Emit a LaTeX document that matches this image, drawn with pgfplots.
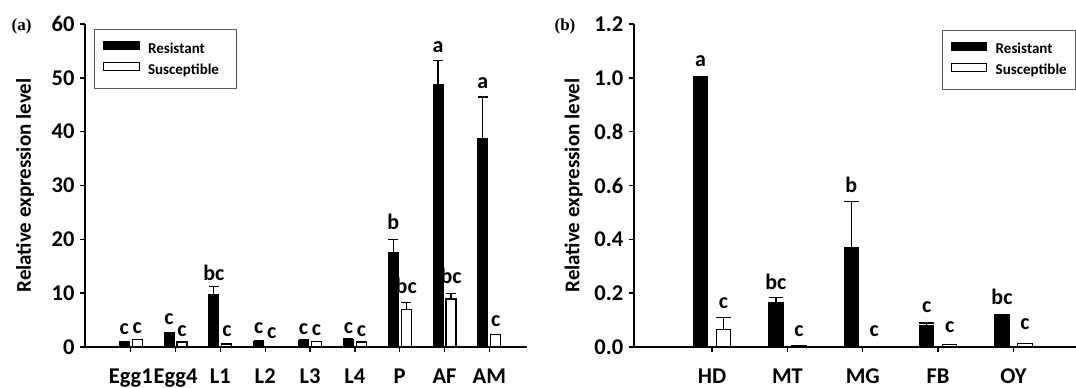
\documentclass[border=0pt]{standalone}
\usepackage{fontspec}
\setmainfont{Carlito}
\newfontfamily\timesf{Liberation Serif}
\usepackage{pgfplots}
\pgfplotsset{compat=1.18}
\usepackage{pgfplotstable}

% Panel (a)
\pgfplotstableread{
x y e
0 0.93 0
1 2.72 0
2 9.75 1.42
3 1.11 0
4 1.30 0
5 1.48 0
6 17.6 2.4
7 48.67 4.52
8 38.76 7.68
}\resA
\pgfplotstableread{
x y e
0 1.42 0
1 0.93 0
2 0.56 0
3 0.15 0
4 1.05 0
5 0.93 0
6 6.9 1.37
7 8.9 1.0
8 2.3 0
}\susA
% Panel (b)
\pgfplotstableread{
x y e
0 1.0 0.003
1 0.165 0.018
2 0.368 0.173
3 0.079 0.010
4 0.121 0
}\resB
\pgfplotstableread{
x y e
0 0.064 0.047
1 0.006 0
2 0.001 0
3 0.009 0
4 0.0136 0
}\susB

\pgfplotsset{
  mybase/.style={
    scale only axis, anchor=south west,
    axis x line=bottom, axis y line=left,
    axis line style={-, line width=1.8pt},
    tick style={black, line width=1.4pt},
    major tick length=5pt, tick align=outside,
    ymin=0,
    ticklabel style={font=\fontsize{22.5}{24}\selectfont\bfseries},
    xticklabel style={yshift=-13pt},
    yticklabel style={xshift=-2pt},
    /pgf/number format/assume math mode=true,
    ylabel={Relative expression level},
    ylabel style={font=\fontsize{21}{24}\selectfont\bfseries,
      at={(axis description cs:-0.1357,0.5)}, anchor=center},
    legend cell align=left,
    legend style={font=\fontsize{15}{17}\selectfont\bfseries, draw=black!65, line width=0.8pt,
      inner xsep=8.7pt, inner ysep=11.5pt, row sep=6pt, column sep=8.4pt,
      nodes={inner sep=0pt, text height=11pt, text depth=3pt},
      anchor=north west},
    clip=false,
  },
  legpatch/.style={legend image code/.code={\draw[##1, line width=1pt] (0pt,-0.5pt) rectangle (35.5pt,7.5pt);}},
  myerr/.style={error bars/.cd, y dir=plus, y explicit,
    error bar style={black, line width=1.2pt},
    error mark options={black, line width=1.2pt, rotate=90, mark size=#1}},
}
\tikzset{lab/.style={anchor=south, inner sep=0pt, font=\fontsize{22}{24}\selectfont\bfseries}}

\begin{document}
\begin{tikzpicture}
\path[use as bounding box] (0,0) rectangle (1076pt,388pt);

% ---------------- Panel (a)
\begin{axis}[mybase,
  at={(85pt,41pt)}, width=442pt, height=323pt,
  ybar=3pt, bar width=10pt,
  xmin=-1.02, xmax=8.84, ymax=60,
  ytick={0,10,...,60},
  xtick={0,...,8},
  xticklabels={Egg1,Egg4,L1,L2,L3,L4,P,AF,AM},
  legend style={at={(0.0204,0.9836)}},
]
\addplot[fill=black, draw=black, line width=1pt, legpatch, myerr=5pt] table[x=x,y=y,y error=e] {\resA};
\addlegendentry{Resistant}
\addplot[fill=white, draw=black, line width=1.2pt, legpatch, myerr=5pt] table[x=x,y=y,y error=e] {\susA};
\addlegendentry{Susceptible\hspace*{9pt}}
% significance letters
\node[lab, xshift=-6.5pt] at (axis cs:0,2.2) {c};
\node[lab, xshift=6.5pt]  at (axis cs:0,2.5) {c};
\node[lab, xshift=-6.5pt] at (axis cs:1,4.1) {c};
\node[lab, xshift=6.5pt]  at (axis cs:1,1.9) {c};
\node[lab, xshift=-6.5pt] at (axis cs:2,12.3) {bc};
\node[lab, xshift=6.5pt]  at (axis cs:2,1.9) {c};
\node[lab, xshift=-6.5pt] at (axis cs:3,2.5) {c};
\node[lab, xshift=6.5pt]  at (axis cs:3,1.6) {c};
\node[lab, xshift=-6.5pt] at (axis cs:4,2.2) {c};
\node[lab, xshift=6.5pt]  at (axis cs:4,2.1) {c};
\node[lab, xshift=-6.5pt] at (axis cs:5,2.5) {c};
\node[lab, xshift=6.5pt]  at (axis cs:5,1.9) {c};
\node[lab, xshift=-6.5pt] at (axis cs:6,21.7) {b};
\node[lab, xshift=6.5pt]  at (axis cs:6,9.9) {bc};
\node[lab, xshift=-6.5pt] at (axis cs:7,54.55) {a};
\node[lab, xshift=6.5pt]  at (axis cs:7,11.8) {bc};
\node[lab, xshift=-6.5pt] at (axis cs:8,47.86) {a};
\node[lab, xshift=6.5pt]  at (axis cs:8,3.8) {c};
\end{axis}

% ---------------- Panel (b)
\begin{axis}[mybase,
  at={(633.7pt,41pt)}, width=442.3pt, height=323pt,
  ybar=8.5pt, bar width=14.5pt,
  xmin=-1.04, xmax=4.83, ymax=1.2,
  ytick={0,0.2,...,1.2},
  yticklabel style={/pgf/number format/.cd, fixed, fixed zerofill, precision=1},
  xtick={0,...,4},
  xticklabels={HD,MT,MG,FB,OY},
  legend style={at={(0.6964,0.9814)}},
]
\addplot[fill=black, draw=black, line width=1pt, legpatch, myerr=7.25pt] table[x=x,y=y,y error=e] {\resB};
\addlegendentry{Resistant}
\addplot[fill=white, draw=black, line width=1.2pt, legpatch, myerr=7.25pt] table[x=x,y=y,y error=e] {\susB};
\addlegendentry{Susceptible}
\node[lab, xshift=-11.5pt] at (axis cs:0,1.041) {a};
\node[lab, xshift=11.5pt]  at (axis cs:0,0.143) {c};
\node[lab, xshift=-11.5pt] at (axis cs:1,0.211) {bc};
\node[lab, xshift=11.5pt]  at (axis cs:1,0.038) {c};
\node[lab, xshift=-11.5pt] at (axis cs:2,0.571) {b};
\node[lab, xshift=11.5pt]  at (axis cs:2,0.038) {c};
\node[lab, xshift=-11.5pt] at (axis cs:3,0.125) {c};
\node[lab, xshift=11.5pt]  at (axis cs:3,0.051) {c};
\node[lab, xshift=-11.5pt] at (axis cs:4,0.156) {bc};
\node[lab, xshift=11.5pt]  at (axis cs:4,0.063) {c};
\end{axis}

% panel labels
\node[font=\timesf\fontsize{17}{19}\selectfont\bfseries] at (21.5pt,362pt) {(a)};
\node[font=\timesf\fontsize{17}{19}\selectfont\bfseries] at (565pt,362pt) {(b)};
\end{tikzpicture}
\end{document}
